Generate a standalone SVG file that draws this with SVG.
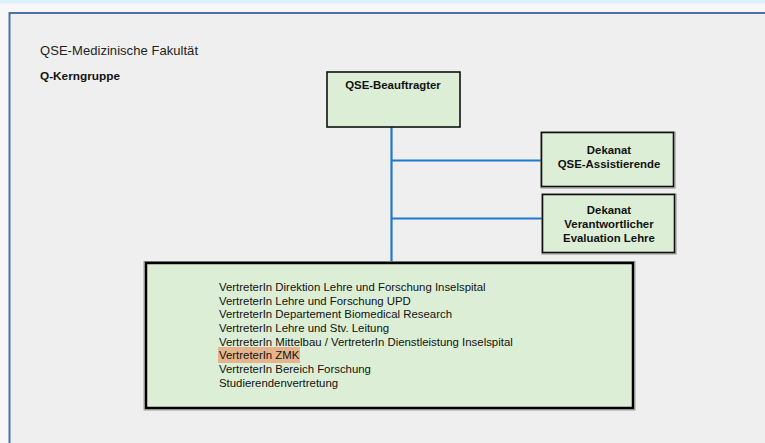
<svg xmlns="http://www.w3.org/2000/svg" width="765" height="443" viewBox="0 0 765 443">
<style>
.box{fill:#dcefd6;stroke:#111;stroke-width:1.6}
.shadow{fill:none;stroke:#8a8a8a;stroke-width:1}
.bt{font-family:"Liberation Sans",Arial,sans-serif;font-weight:bold;font-size:11.4px;fill:#111;text-anchor:middle}
.lt{font-family:"Liberation Sans",Arial,sans-serif;font-size:11.4px;fill:#111}
.conn{stroke:#1f78d2;stroke-width:2.2;fill:none}
</style>
<rect x="0" y="0" width="765" height="443" fill="#f7f7f7"/>
<rect x="0" y="0" width="765" height="3.5" fill="#ddf1fc"/>
<rect x="9" y="13" width="756" height="430" fill="#efefef"/>
<path d="M9.5 443 V13 H765" fill="none" stroke="#4874a6" stroke-width="2"/>
<text x="40" y="55" font-family="Liberation Sans,Arial,sans-serif" font-size="13" fill="#222" textLength="158">QSE-Medizinische Fakultät</text>
<text x="40" y="80" font-family="Liberation Sans,Arial,sans-serif" font-size="11.8" font-weight="bold" fill="#111">Q-Kerngruppe</text>
<g id="connectors">
<line class="conn" x1="391.5" y1="127" x2="391.5" y2="262"/>
<line class="conn" x1="391.5" y1="160.5" x2="541" y2="160.5"/>
<line class="conn" x1="391.5" y1="218.5" x2="542" y2="218.5"/>
</g>
<g id="qse-beauftragter">
<rect class="box" x="327" y="72" width="133" height="55"/>
<text class="bt" x="393" y="89">QSE-Beauftragter</text>
</g>
<g id="dekanat-assistierende">
<rect class="shadow" x="541" y="132" width="134" height="56"/>
<rect class="box" x="541.5" y="132.5" width="132" height="54"/>
<text class="bt" x="609" y="154">Dekanat</text>
<text class="bt" x="609" y="168">QSE-Assistierende</text>
</g>
<g id="dekanat-evaluation">
<rect class="shadow" x="542" y="194" width="134" height="60"/>
<rect class="box" x="542.5" y="194.5" width="132" height="58"/>
<text class="bt" x="609" y="214">Dekanat</text>
<text class="bt" x="609" y="228">Verantwortlicher</text>
<text class="bt" x="609" y="242">Evaluation Lehre</text>
</g>
<g id="kerngruppe-mitglieder">
<rect x="144" y="261.5" width="491" height="148.5" fill="none" stroke="#999" stroke-width="1"/>
<rect x="146" y="263" width="487" height="145" fill="#dcefd6" stroke="#000" stroke-width="2.5"/>
<rect x="218" y="347" width="82" height="16" fill="#e6b48c"/>
<text class="lt" x="219" y="291">VertreterIn Direktion Lehre und Forschung Inselspital</text>
<text class="lt" x="219" y="304.7">VertreterIn Lehre und Forschung UPD</text>
<text class="lt" x="219" y="318.3">VertreterIn Departement Biomedical Research</text>
<text class="lt" x="219" y="332">VertreterIn Lehre und Stv. Leitung</text>
<text class="lt" x="219" y="345.7">VertreterIn Mittelbau / VertreterIn Dienstleistung Inselspital</text>
<text class="lt" x="219" y="359.3">VertreterIn ZMK</text>
<text class="lt" x="219" y="373">VertreterIn Bereich Forschung</text>
<text class="lt" x="219" y="386.7">Studierendenvertretung</text>
</g>
</svg>
